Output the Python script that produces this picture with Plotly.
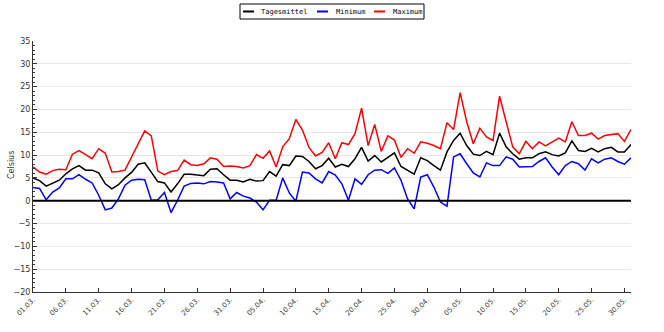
import pandas as pd
import plotly.graph_objects as go

# Daily temperatures, 01.03. - 31.05. (°C)
dates = pd.date_range("2013-03-01", "2013-05-31", freq="D")

tagesmittel = [
    5.0, 4.4, 3.2, 3.9, 4.5, 5.9, 7.0, 7.7, 6.7, 6.7, 6.1, 3.7, 2.6, 3.5, 5.0, 6.2,
    8.0, 8.3, 6.3, 4.2, 3.9, 1.9, 3.7, 5.8, 5.8, 5.7, 5.5, 6.9, 7.0, 5.7, 4.5,
    4.5, 4.1, 4.7, 4.3, 4.4, 6.4, 5.4, 7.9, 7.7, 9.8, 9.7, 8.6, 7.0, 7.7, 9.3,
    7.4, 8.0, 7.5, 9.2, 11.7, 8.7, 9.9, 8.5, 9.6, 10.5, 7.5, 6.7, 5.8, 9.4, 8.8,
    7.7, 6.7, 10.7, 13.2, 14.8, 12.1, 10.2, 9.9, 10.8, 10.1, 14.8, 11.8, 10.3, 9.1, 9.4,
    9.4, 10.3, 10.7, 10.1, 9.8, 10.5, 13.1, 11.0, 10.8, 11.5, 10.7, 11.4, 11.7, 10.7, 10.7, 12.3,
]
minimum = [
    2.9, 2.7, 0.2, 1.9, 2.8, 4.8, 4.8, 5.7, 4.7, 3.9, 1.2, -2.0, -1.6, 0.4, 3.4, 4.5,
    4.7, 4.6, 0.1, 0.2, 1.8, -2.6, 0.1, 3.2, 3.8, 3.9, 3.7, 4.2, 4.1, 3.9, 0.4,
    1.8, 1.0, 0.6, -0.3, -2.0, 0.1, 0.1, 5.0, 1.7, -0.1, 6.3, 6.1, 4.8, 3.9, 6.4,
    5.6, 3.7, 0.1, 4.8, 3.6, 5.7, 6.7, 6.8, 6.0, 7.2, 4.5, 0.4, -1.8, 5.2, 5.7,
    3.0, -0.3, -1.2, 9.6, 10.3, 8.1, 6.1, 5.2, 8.3, 7.7, 7.7, 9.6, 9.1, 7.4, 7.4,
    7.5, 8.6, 9.4, 7.4, 5.7, 7.7, 8.6, 8.1, 6.7, 9.2, 8.3, 9.1, 9.4, 8.6, 8.0, 9.4,
]
maximum = [
    7.4, 6.3, 5.8, 6.6, 6.9, 6.8, 10.2, 11.0, 10.1, 9.2, 11.4, 10.4, 6.3, 6.4, 6.7, 9.6,
    12.3, 15.3, 14.2, 6.5, 5.7, 6.4, 6.6, 8.9, 7.9, 7.7, 8.1, 9.4, 9.1, 7.5, 7.6,
    7.5, 7.2, 7.7, 10.1, 9.3, 10.9, 7.4, 11.8, 13.6, 17.8, 15.5, 11.7, 9.8, 10.6, 12.7,
    9.2, 12.7, 12.3, 14.7, 20.3, 12.1, 16.7, 10.8, 14.2, 13.3, 9.5, 11.4, 10.4, 12.9, 12.6,
    12.1, 11.4, 17.1, 15.6, 23.7, 17.3, 12.5, 15.9, 14.0, 13.2, 22.9, 17.3, 11.8, 10.3, 13.0,
    11.4, 12.9, 12.0, 12.9, 13.7, 12.9, 17.3, 14.3, 14.3, 14.8, 13.5, 14.3, 14.5, 14.7, 13.0, 15.6,
]

tick_labels = [
    "01.03.", "06.03.", "11.03.", "16.03.", "21.03.", "26.03.", "31.03.",
    "05.04.", "10.04.", "15.04.", "20.04.", "25.04.", "30.04.",
    "05.05.", "10.05.", "15.05.", "20.05.", "25.05.", "30.05.",
]
tick_dates = dates[::5][: len(tick_labels)]

series = [
    ("Tagesmittel", tagesmittel, "#000000"),
    ("Minimum", minimum, "#0000ff"),
    ("Maximum", maximum, "#ff0000"),
]

W, H = 664, 332
ML, MR, MT, MB = 33, 33, 41, 40
PW, PH = W - ML - MR, H - MT - MB


def px(x):
    return (x - ML) / PW


def py(y):
    return (H - MB - y) / PH


fig = go.Figure()
for name, values, color in series:
    fig.add_trace(go.Scatter(
        x=dates, y=values, name=name, mode="lines",
        line=dict(color=color, width=1.5), showlegend=False,
    ))

fig.add_hline(y=0, line=dict(color="#000000", width=2), layer="above")

# boxed legend above the plot, with a drop shadow
shapes = [
    dict(type="rect", xref="paper", yref="paper",
         x0=px(242), x1=px(426), y0=py(21), y1=py(6),
         fillcolor="#555555", line=dict(width=0)),
    dict(type="rect", xref="paper", yref="paper",
         x0=px(240), x1=px(424), y0=py(19), y1=py(4),
         fillcolor="white", line=dict(color="#000000", width=1)),
]
annotations = [
    dict(xref="paper", yref="paper", x=px(11), y=py(165), text="Celsius",
         textangle=-90, showarrow=False, xanchor="center", yanchor="middle",
         font=dict(family="DejaVu Sans", size=8, color="#333333")),
]
legend_items = [(243, 259), (317, 334), (374, 391)]
for (x_line, x_text), (name, _, color) in zip(legend_items, series):
    shapes.append(dict(type="line", xref="paper", yref="paper",
                       x0=px(x_line), x1=px(x_line + 11), y0=py(11.5), y1=py(11.5),
                       line=dict(color=color, width=2)))
    annotations.append(dict(xref="paper", yref="paper", x=px(x_text), y=py(11.5),
                            text=name, showarrow=False, xanchor="left", yanchor="middle",
                            font=dict(family="DejaVu Sans Mono", size=7, color="#000000")))

fig.update_layout(
    width=W, height=H,
    margin=dict(l=ML, r=MR, t=MT, b=MB, autoexpand=False),
    paper_bgcolor="white", plot_bgcolor="white",
    font=dict(family="DejaVu Sans", size=8, color="#333333"),
    showlegend=False,
    shapes=shapes,
    annotations=annotations,
    xaxis=dict(
        range=[dates[0], dates[-1]],
        tickvals=tick_dates, ticktext=tick_labels, tickangle=-45,
        ticks="inside", ticklen=4, tickcolor="#333333",
        showline=True, linecolor="#333333", linewidth=1,
        showgrid=False, zeroline=False,
        tickfont=dict(size=7, color="#444444"),
    ),
    yaxis=dict(
        range=[-20, 35], dtick=5, tick0=0,
        ticks="inside", ticklen=4, tickcolor="#333333",
        minor=dict(dtick=1, ticks="inside", ticklen=2, tickcolor="#333333", showgrid=False),
        showline=True, linecolor="#333333", linewidth=1,
        showgrid=True, gridcolor="#e6e6e6", gridwidth=1,
        zeroline=False,
        tickfont=dict(size=8, color="#333333"),
    ),
)

fig.write_html("out.html")
